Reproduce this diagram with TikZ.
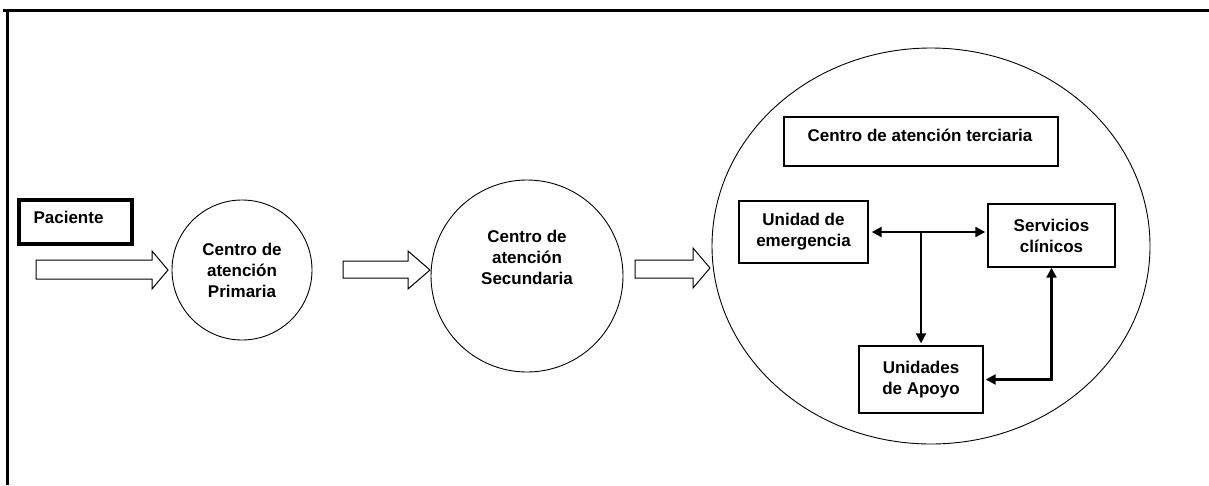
\documentclass[tikz,border=0pt]{standalone}
\usepackage{fontspec}
\setmainfont{Liberation Sans}
\usetikzlibrary{arrows.meta,shapes.geometric}
\begin{document}
\begin{tikzpicture}[x=1pt,y=-1pt,
  every node/.style={font=\fontsize{17}{21}\selectfont\bfseries},
  stage/.style={draw,circle,line width=0.9pt,inner sep=0pt,align=center},
  unit/.style={draw,rectangle,line width=1.4pt,inner sep=0pt,align=center},
  flow/.style={draw,line width=1pt,line join=miter,fill=white},
  link/.style={line width=2.2pt,shorten <=3pt,shorten >=2pt,
    {Triangle[length=10pt,width=10pt]}-{Triangle[length=10pt,width=10pt]}},
  onelink/.style={line width=2.2pt,shorten >=2pt,-{Triangle[length=10pt,width=10pt]}}]
\useasboundingbox (0,0) rectangle (1209,485);
\fill[white] (0,0) rectangle (1209,485);

% page frame
\draw[line width=3pt] (3,10) -- (1209,10);
\draw[line width=3pt] (7,10) -- (7,485);

% patient
\node[draw,rectangle,line width=4pt,minimum width=113,minimum height=44,
      anchor=north west] (pac) at (17,198) {};
\node[anchor=west] (pacT) at (30,217) {Paciente};

% care levels
\node[stage,minimum size=140] (prim) at (242,270) {Centro de\\atención\\Primaria};
\node[stage,minimum size=192] (sec) at (527,276) {Centro de\\atención\\Secundaria\\[16pt]};
\node[draw,ellipse,line width=0.9pt,minimum width=438,minimum height=396,inner sep=0pt]
  (ter) at (931,246) {};

% hollow block arrows between levels
\draw[flow] (36,260) -- (152,260) -- (152,251) -- (168,270) -- (152,289)
  -- (152,279) -- (36,279) -- cycle;
\draw[flow] (343,261) -- (408,261) -- (408,251) -- (430,270) -- (408,289)
  -- (408,278) -- (343,278) -- cycle;
\draw[flow] (635,260) -- (693,260) -- (693,248) -- (710,268) -- (693,288)
  -- (693,278) -- (635,278) -- cycle;

% tertiary centre contents
\node[draw,rectangle,line width=2.2pt,minimum width=274,minimum height=49,
      anchor=north west] (terBox) at (783,116) {};
\node (terT) at (920,135) {Centro de atención terciaria};

\node[unit,minimum width=129,minimum height=62] (ue) at (803.5,232) {Unidad de\\emergencia};
\node[unit,minimum width=127,minimum height=63] (sc) at (1051.5,235.5) {Servicios\\clínicos};
\node[unit,minimum width=124,minimum height=67] (ua) at (921,379.5) {Unidades\\de Apoyo};

% connections between units
\coordinate (j) at (ua.north |- ue.east);
\draw[link] (ue.east) -- (ue.east -| sc.west);
\draw[onelink] (j) -- (ua.north);
\draw[link,shorten <=0pt] (sc.south) |- (ua.east);
\end{tikzpicture}
\end{document}
